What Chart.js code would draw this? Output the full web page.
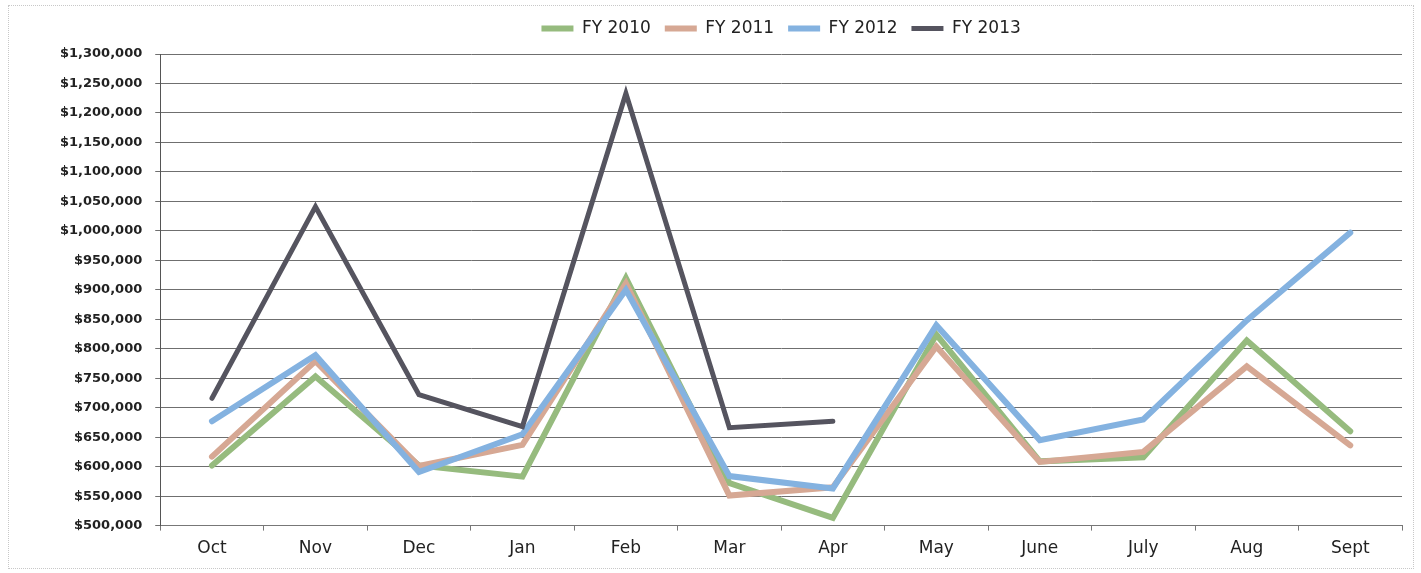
<!DOCTYPE html>
<html>
<head>
<meta charset="utf-8">
<script src="https://cdn.jsdelivr.net/npm/chart.js@4"></script>
<style>
  body { margin: 0; background: #fff; }
  #wrap { position: relative; width: 1421px; height: 573px; }
  #frame { position: absolute; left: 8px; top: 5px; width: 1404px; height: 562px; border: 1px dotted #c8c8c8; }
</style>
</head>
<body>
<div id="wrap">
  <div id="frame"></div>
  <canvas id="salesChart"></canvas>
</div>
<script>
var months = ['Oct', 'Nov', 'Dec', 'Jan', 'Feb', 'Mar', 'Apr', 'May', 'June', 'July', 'Aug', 'Sept'];
var fy2010 = [602000, 753000, 602000, 583000, 920000, 572000, 513000, 824000, 609000, 616000, 814000, 660000];
var fy2011 = [617000, 779000, 601000, 637000, 911000, 551000, 565000, 804000, 608000, 625000, 770000, 636000];
var fy2012 = [677000, 789000, 591000, 655000, 900000, 584000, 563000, 840000, 645000, 680000, 848000, 997000];
var fy2013 = [716000, 1041000, 722000, 668000, 1233000, 666000, 677000, null, null, null, null, null];

// keep the legend centred over the plot and a bit higher, like the original
var centreLegend = {
  id: 'centreLegend',
  afterLayout: function(chart) {
    var lg = chart.legend;
    var d = (chart.chartArea.left + chart.chartArea.right) / 2 - (lg.left + lg.right) / 2;
    lg.left += d;
    lg.right += d;
    lg.top -= 7;
    lg.bottom -= 7;
  }
};

function line(label, data, color, width, order) {
  return { label: label, data: data, borderColor: color, backgroundColor: color, borderWidth: width,
    pointRadius: 0, tension: 0, borderCapStyle: 'round', borderJoinStyle: 'miter', order: order, spanGaps: false };
}

new Chart(document.getElementById('salesChart'), {
  type: 'line',
  data: {
    labels: months,
    datasets: [
      line('FY 2010', fy2010, '#96bb7e', 6, 4),
      line('FY 2011', fy2011, '#d6a894', 6, 3),
      line('FY 2012', fy2012, '#84b2e0', 6, 2),
      line('FY 2013', fy2013, '#55545f', 5, 1)
    ]
  },
  options: {
    responsive: true,
    maintainAspectRatio: false,
    animation: false,
    layout: { padding: { left: 47, right: 19, top: 13, bottom: 6 } },
    plugins: {
      tooltip: { enabled: false },
      legend: {
        position: 'top',
        labels: {
          usePointStyle: true,
          pointStyle: 'line',
          pointStyleWidth: 32,
          padding: 14,
          color: '#222',
          font: { family: 'DejaVu Sans', size: 17 },
          sort: function(a, b) { return a.datasetIndex - b.datasetIndex; }
        }
      }
    },
    scales: {
      x: {
        offset: true,
        grid: { offset: true, drawOnChartArea: false, tickLength: 5, color: '#777' },
        border: { color: '#777' },
        ticks: { padding: 8, color: '#222', font: { family: 'DejaVu Sans', size: 17 } }
      },
      y: {
        min: 500000,
        max: 1300000,
        grid: { color: '#6f6f6f', tickLength: 5 },
        border: { color: '#555' },
        ticks: {
          stepSize: 50000,
          padding: 13,
          color: '#222',
          font: { family: 'DejaVu Sans', size: 13, weight: 'bold' },
          callback: function(v) { return '$' + v.toLocaleString('en-US'); }
        }
      }
    }
  },
  plugins: [centreLegend]
});
</script>
</body>
</html>
